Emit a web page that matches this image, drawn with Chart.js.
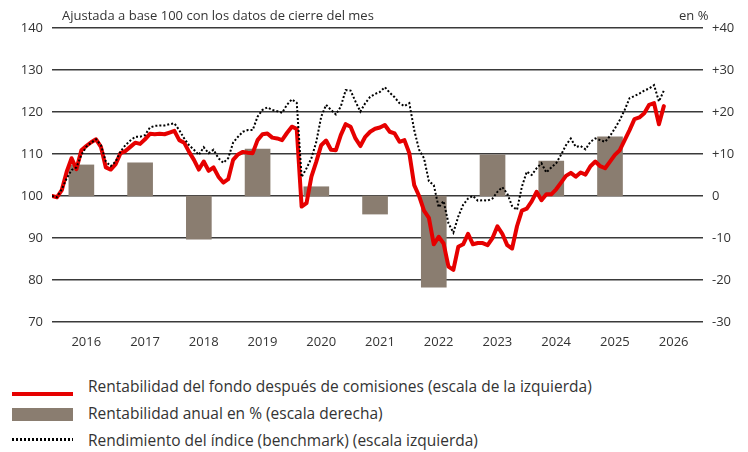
<!DOCTYPE html>
<html><head><meta charset="utf-8">
<script src="https://cdn.jsdelivr.net/npm/chart.js@4"></script>
<style>
html,body{margin:0;padding:0;background:#fff;}
body{width:748px;height:452px;position:relative;overflow:hidden;font-family:"Open Sans",sans-serif;color:#333;}
#wrap{position:absolute;left:0;top:0;width:748px;height:352px;}
.t{position:absolute;font-size:13px;white-space:nowrap;line-height:16px;}
.leg{position:absolute;left:88px;font-size:15.5px;white-space:nowrap;line-height:18px;color:#333;}
.sw{position:absolute;left:12px;width:61px;}
</style></head><body>
<div id="wrap"><canvas id="c"></canvas></div>
<div class="t" style="left:62px;top:7px">Ajustada a base 100 con los datos de cierre del mes</div>
<div class="t" style="left:679px;top:7px">en %</div>
<div class="sw" style="top:392px;height:4px;background:#e60000"></div>
<div class="leg" style="top:377px">Rentabilidad del fondo después de comisiones (escala de la izquierda)</div>
<div class="sw" style="top:408px;height:13px;background:#8a7d70"></div>
<div class="leg" style="top:404px">Rentabilidad anual en % (escala derecha)</div>
<div class="sw" style="top:438px;height:3px;background:repeating-linear-gradient(to right,#000 0 2px,transparent 2px 4px)"></div>
<div class="leg" style="top:431px">Rendimiento del índice (benchmark) (escala izquierda)</div>
<script>
// Year tick labels
const years = ['2016','2017','2018','2019','2020','2021','2022','2023','2024','2025','2026'];
// Annual return in % (right axis), one per year 2016..2025
const annual = [7.4, 7.9, -10.3, 11.2, 2.2, -4.3, -21.7, 9.8, 8.3, 14.1];
// Monthly fund value (base 100), Dec 2015 .. Apr 2026
const fund = [100.0,99.7,101.4,105.8,109.0,106.4,110.9,111.9,112.8,113.5,111.7,106.8,
106.3,107.6,110.2,110.7,111.7,112.7,112.4,113.5,114.8,114.7,114.8,114.7,
115.1,115.5,113.3,112.7,110.5,108.6,106.3,108.2,106.0,106.8,104.6,103.2,
104.0,108.6,109.9,110.5,110.3,110.2,113.3,114.7,114.9,113.9,113.7,113.3,
115.0,116.5,116.0,97.5,98.3,104.6,108.2,112.1,113.2,111.0,110.9,114.5,
117.1,116.5,113.7,111.9,114.1,115.3,116.0,116.3,116.9,115.3,114.9,112.9,
113.3,110.2,102.6,100.0,96.5,94.8,88.5,90.3,88.7,83.2,82.4,87.9,
88.5,91.0,88.5,88.8,88.8,88.3,90.0,92.8,91.0,88.3,87.5,92.8,
96.5,97.0,98.7,101.0,99.0,100.4,100.4,101.6,103.2,104.8,105.5,104.6,
105.6,105.1,107.1,108.2,107.1,106.6,108.2,109.8,110.9,113.3,115.7,118.3,
118.7,119.7,121.7,122.1,117.1,121.4];
// Monthly benchmark value (base 100), Dec 2015 .. Apr 2026
const bench = [100.0,99.7,101.6,104.2,106.2,106.8,109.8,111.7,112.7,113.5,112.1,108.2,
107.1,108.2,110.6,112.1,113.2,114.1,114.1,114.5,116.3,116.7,116.8,116.8,
117.1,117.3,115.7,113.7,112.1,111.0,109.8,111.6,110.2,111.0,109.0,107.9,
109.0,112.7,114.1,115.3,115.7,115.7,118.9,120.5,121.1,120.5,120.2,119.8,
121.7,123.0,122.2,104.5,106.6,109.0,112.9,118.9,121.7,120.5,119.4,121.3,
125.2,125.1,122.5,120.1,122.1,123.6,124.3,124.8,125.9,124.6,123.5,122.1,
121.4,122.1,115.7,111.0,109.0,103.5,102.6,97.3,98.8,93.5,91.3,95.1,
97.9,99.4,100.0,98.9,99.0,98.9,99.4,101.0,102.1,100.6,97.6,96.7,
102.2,105.8,105.0,106.6,107.8,105.6,106.8,107.8,109.8,112.1,113.7,111.7,
111.9,111.1,112.9,113.7,113.3,112.9,114.3,116.1,118.1,120.5,123.3,123.8,
124.4,125.1,125.6,126.4,122.5,125.1];

const tickFont = {family:'"Open Sans", sans-serif', size:13};
const txt = '#333';

new Chart(document.getElementById('c'), {
  type: 'bar',
  data: {
    datasets: [
      {
        type:'line', label:'Rendimiento del índice (benchmark) (escala izquierda)',
        data: bench.map((v,i)=>({x:i,y:v})), yAxisID:'y',
        borderColor:'#000', borderWidth:2, borderDash:[2,2], pointRadius:0, tension:0, order:0
      },
      {
        type:'line', label:'Rentabilidad del fondo después de comisiones (escala de la izquierda)',
        data: fund.map((v,i)=>({x:i,y:v})), yAxisID:'y',
        borderColor:'#e60000', borderWidth:4, pointRadius:0, tension:0, order:1,
        borderJoinStyle:'round', borderCapStyle:'round'
      },
      {
        type:'bar', label:'Rentabilidad anual en % (escala derecha)',
        data: annual.map((v,k)=>({x:k*12+6,y:v})), yAxisID:'y1',
        backgroundColor:'#8a7d70', barThickness:25, order:2
      }
    ]
  },
  options: {
    responsive:true, maintainAspectRatio:false, animation:false, devicePixelRatio:1,
    layout:{padding:{top:28,left:0,right:0,bottom:0}},
    plugins:{legend:{display:false}, tooltip:{enabled:false}},
    scales:{
      x:{
        type:'linear', min:0, max:133, offset:false,
        grid:{display:false, offset:false}, border:{display:false},
        afterBuildTicks:(s)=>{ s.ticks = years.map((y,k)=>({value:k*12+7})); },
        afterFit:(s)=>{ s.height = 30; },
        ticks:{ autoSkip:false, maxRotation:0, padding:4, font:tickFont, color:txt,
          callback:(v)=>years[Math.round((v-7)/12)] }
      },
      y:{
        position:'left', min:70, max:140,
        grid:{color:'#3a3a3a', lineWidth:1.5, drawTicks:false}, border:{display:false},
        afterFit:(s)=>{ s.width = 52; },
        ticks:{ stepSize:10, padding:9, font:tickFont, color:txt }
      },
      y1:{
        position:'right', min:-30, max:40,
        grid:{display:false, drawTicks:false}, border:{display:false},
        afterFit:(s)=>{ s.width = 45; },
        ticks:{ stepSize:10, padding:9, font:tickFont, color:txt,
          callback:(v)=> v>0 ? '+'+v : ''+v }
      }
    }
  }
});
</script>
</body></html>
